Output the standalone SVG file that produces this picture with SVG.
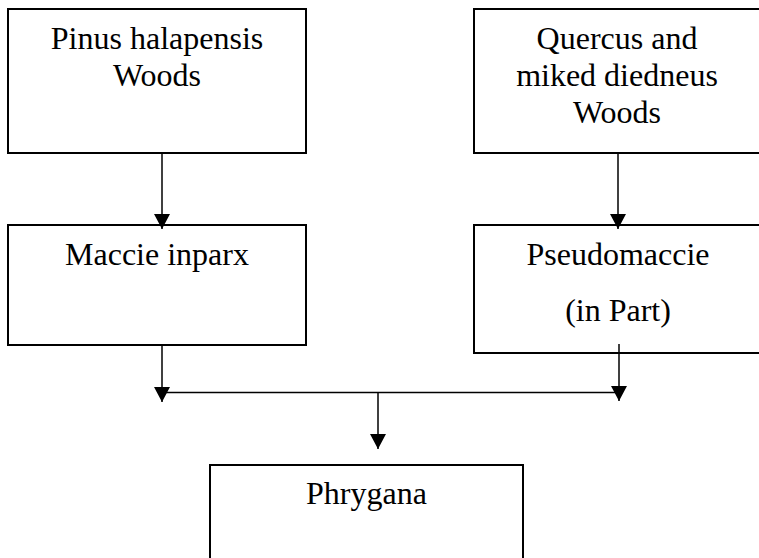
<svg xmlns="http://www.w3.org/2000/svg" width="759" height="558" viewBox="0 0 759 558">
<style>
.box{fill:#fff;stroke:#000;stroke-width:2}
.lbl{font-family:"Liberation Serif","Times New Roman",serif;font-size:32px;fill:#000;text-anchor:middle}
.con{stroke:#000;stroke-width:1.5;fill:none}
</style>
<defs>
<marker id="ah" markerUnits="userSpaceOnUse" markerWidth="16" markerHeight="16" viewBox="0 0 16 16" refX="15" refY="8" orient="auto">
<path d="M0,0 L15,8 L0,16 Z" fill="#000"/>
</marker>
</defs>
<rect width="759" height="558" fill="#fff"/>
<g id="pinus">
<rect class="box" x="8" y="9" width="298" height="144"/>
<text class="lbl" x="157" y="49">Pinus halapensis</text>
<text class="lbl" x="157" y="86">Woods</text>
</g>
<g id="quercus">
<rect class="box" x="474" y="9" width="290" height="144"/>
<text class="lbl" x="617" y="49">Quercus and</text>
<text class="lbl" x="617" y="86">miked diedneus</text>
<text class="lbl" x="617" y="123">Woods</text>
</g>
<g id="maccie">
<rect class="box" x="8" y="225" width="298" height="120"/>
<text class="lbl" x="157" y="265">Maccie inparx</text>
</g>
<g id="pseudomaccie">
<rect class="box" x="474" y="225" width="290" height="128"/>
<text class="lbl" x="618" y="265">Pseudomaccie</text>
<text class="lbl" x="618" y="321">(in Part)</text>
</g>
<g id="phrygana">
<rect class="box" x="210" y="465" width="313" height="110"/>
<text class="lbl" x="366.5" y="504">Phrygana</text>
</g>
<g id="connectors">
<line class="con" x1="162" y1="153" x2="162" y2="229" marker-end="url(#ah)"/>
<line class="con" x1="618" y1="153" x2="618" y2="229" marker-end="url(#ah)"/>
<line class="con" x1="162" y1="345" x2="162" y2="402" marker-end="url(#ah)"/>
<line class="con" x1="619" y1="344" x2="619" y2="401" marker-end="url(#ah)"/>
<line class="con" x1="162" y1="392.5" x2="619" y2="392.5"/>
<line class="con" x1="378" y1="392.5" x2="378" y2="449" marker-end="url(#ah)"/>
</g>
</svg>
